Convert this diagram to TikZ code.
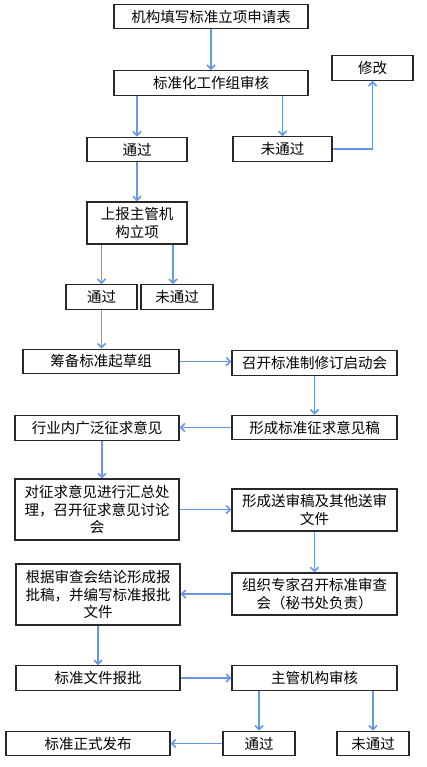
\documentclass[tikz,border=0pt]{standalone}
\usepackage{fontspec}
\setmainfont{Noto Sans CJK SC}
\usetikzlibrary{arrows.meta}
\definecolor{flowblue}{RGB}{102,150,230}
\definecolor{boxline}{RGB}{40,40,40}
\begin{document}
\begin{tikzpicture}[x=1pt,y=-1pt,
  box/.style={draw=boxline,line width=1.1pt,rectangle,align=center,inner sep=0pt,
    font=\fontsize{14.5}{17.8}\selectfont,minimum height=24.5pt},
  flow/.style={draw=flowblue,line width=1.7pt,-{Straight Barb[length=4pt,width=8pt]}}]
  \useasboundingbox (0,0) rectangle (427,767);
  \node[box,minimum width=194pt] (apply) at (211,16.5) {机构填写标准立项申请表};
  \node[box,minimum width=194pt] (review) at (211,83) {标准化工作组审核};
  \node[box,minimum width=81pt] (modify) at (372.5,68) {修改};
  \node[box,minimum width=100pt] (pass1) at (137,149.5) {通过};
  \node[box,minimum width=99pt] (fail1) at (282.5,149) {未通过};
  \node[box,minimum width=100pt,minimum height=42pt] (report) at (137,223) {上报主管机\\构立项};
  \node[box,minimum width=71pt] (pass2) at (101.5,297) {通过};
  \node[box,minimum width=72pt] (fail2) at (177,297) {未通过};
  \node[box,minimum width=156pt] (prep) at (101,361.5) {筹备标准起草组};
  \node[box,minimum width=165pt] (kickoff) at (314.5,363) {召开标准制修订启动会};
  \node[box,minimum width=165pt] (draft) at (314.5,427.5) {形成标准征求意见稿};
  \node[box,minimum width=164pt] (solicit) at (97,428) {行业内广泛征求意见};
  \node[box,minimum width=164pt,minimum height=61pt] (summary) at (97,509.5) {对征求意见进行汇总处\\理，召开征求意见讨论\\会};
  \node[box,minimum width=165pt,minimum height=42pt] (sendrev) at (314.5,510) {形成送审稿及其他送审\\文件};
  \node[box,minimum width=165pt,minimum height=42pt] (expert) at (314.5,594) {组织专家召开标准审查\\会（秘书处负责）};
  \node[box,minimum width=164pt,minimum height=61pt] (approve) at (98,594.5) {根据审查会结论形成报\\批稿，并编写标准报批\\文件};
  \node[box,minimum width=164pt] (submit) at (98,678) {标准文件报批};
  \node[box,minimum width=165pt] (authority) at (314.5,678) {主管机构审核};
  \node[box,minimum width=72pt] (pass3) at (259,743.5) {通过};
  \node[box,minimum width=72pt] (fail3) at (373,743.5) {未通过};
  \node[box,minimum width=164pt] (publish) at (88,743.5) {标准正式发布};
  \draw[flow] (apply) -- (review);
  \draw[flow] (review.south -| pass1.north) -- (pass1.north);
  \draw[flow] (review.south -| fail1.north) -- (fail1.north);
  \draw[flow] (fail1.east) -| (modify.south);
  \draw[flow] (pass1) -- (report);
  \draw[flow] (report.south -| pass2.north) -- (pass2.north);
  \draw[flow] ([xshift=-4pt]report.south -| fail2.north) -- ([xshift=-4pt]fail2.north);
  \draw[flow] (pass2.south) -- (pass2.south |- prep.north);
  \draw[flow] (prep.east) -- (prep.east -| kickoff.west);
  \draw[flow] (kickoff) -- (draft);
  \draw[flow] (draft.west) -- (draft.west -| solicit.east);
  \draw[flow] ([xshift=5pt]solicit.south) -- ([xshift=5pt]summary.north);
  \draw[flow] (summary.east) -- (summary.east -| sendrev.west);
  \draw[flow] (sendrev) -- (expert);
  \draw[flow] (expert.west) -- (expert.west -| approve.east);
  \draw[flow] (approve) -- (submit);
  \draw[flow] (submit) -- (authority);
  \draw[flow] (authority.south -| pass3.north) -- (pass3.north);
  \draw[flow] (authority.south -| fail3.north) -- (fail3.north);
  \draw[flow] (pass3) -- (publish);
\end{tikzpicture}
\end{document}
